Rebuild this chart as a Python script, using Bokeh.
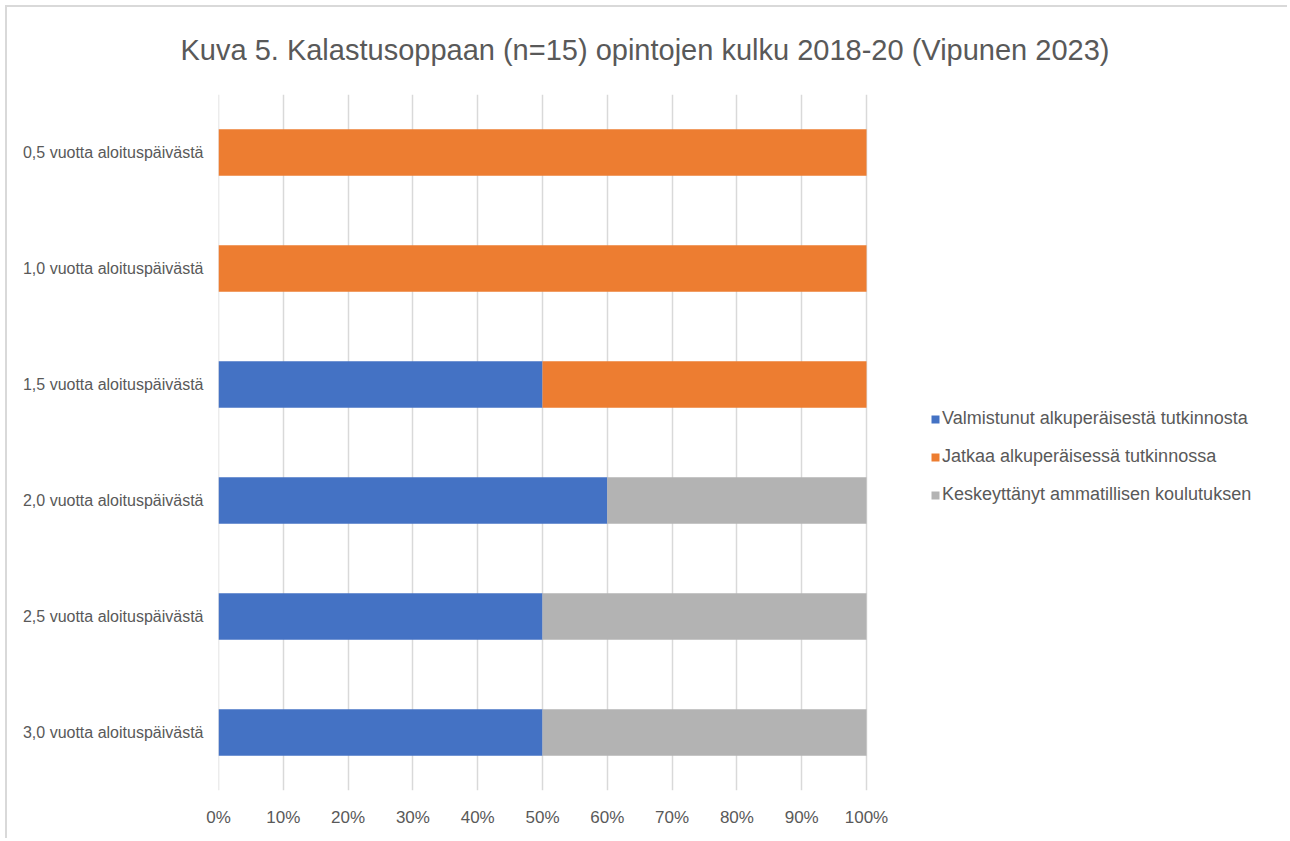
from bokeh.plotting import figure
from bokeh.models import (ColumnDataSource, FactorRange, Range1d, FixedTicker,
                          PrintfTickFormatter, Legend, LegendItem, Title, Span)
from bokeh.embed import file_html
from bokeh.resources import INLINE

categories = ["0,5 vuotta aloituspäivästä", "1,0 vuotta aloituspäivästä",
              "1,5 vuotta aloituspäivästä", "2,0 vuotta aloituspäivästä",
              "2,5 vuotta aloituspäivästä", "3,0 vuotta aloituspäivästä"]
valmistunut = [0, 0, 50, 60, 50, 50]
jatkaa = [100, 100, 50, 0, 0, 0]
keskeyttanyt = [0, 0, 0, 40, 50, 50]
series_names = ["Valmistunut alkuperäisestä tutkinnosta",
                "Jatkaa alkuperäisessä tutkinnossa",
                "Keskeyttänyt ammatillisen koulutuksen"]
colors = ["#4472C4", "#ED7D31", "#B3B3B3"]
x_ticks = [0, 10, 20, 30, 40, 50, 60, 70, 80, 90, 100]
title_text = "Kuva 5. Kalastusoppaan (n=15) opintojen kulku 2018-20 (Vipunen 2023)"

FONT = "Liberation Sans"
TXT = "#595959"
GRID = "#d9d9d9"

W, H = 1282, 833
BL, BR, BT, BB = 211, 5, 86, 50
AXIS_PX = 648  # pixel width of the 0..100 % scale
frame_w = W - BL - BR
x_end = x_ticks[-1] * frame_w / AXIS_PX  # extra room on the right for the legend

src = ColumnDataSource(dict(cat=categories, v=valmistunut, j=jatkaa, k=keskeyttanyt))

p = figure(width=W, height=H, output_backend="svg", toolbar_location=None,
           y_range=FactorRange(factors=list(reversed(categories))),
           x_range=Range1d(0, x_end),
           min_border_left=BL, min_border_right=BR,
           min_border_top=BT, min_border_bottom=BB)
p.outline_line_color = None
p.styles = {"border-top": "2px solid #d9d9d9", "border-left": "2px solid #d9d9d9",
            "margin-left": "5px", "margin-top": "5px"}

p.title = Title(text=title_text, align="left", offset=-38, text_font=FONT,
                text_font_size="29px", text_color=TXT, text_font_style="normal",
                vertical_align="top", standoff=53)

p.add_layout(Span(location=x_ticks[0], dimension="height", line_color=GRID,
                  line_width=1.5, level="underlay"))

renderers = p.hbar_stack(["v", "j", "k"], y="cat", height=0.4, color=colors,
                         source=src, line_color=None)

p.xaxis.ticker = FixedTicker(ticks=x_ticks)
p.xaxis.formatter = PrintfTickFormatter(format="%d%%")
for ax in (p.xaxis[0], p.yaxis[0]):
    ax.axis_line_color = None
    ax.major_tick_line_color = None
    ax.minor_tick_line_color = None
    ax.major_label_text_font = FONT
    ax.major_label_text_color = TXT
p.xaxis.major_label_text_font_size = "17px"
p.xaxis.major_label_standoff = 11
p.yaxis.major_label_text_font_size = "16px"
p.yaxis.major_label_standoff = 9

p.ygrid.grid_line_color = None
p.xgrid.grid_line_color = GRID
p.xgrid.grid_line_width = 1.5

legend = Legend(items=[LegendItem(label=n, renderers=[r]) for n, r in zip(series_names, renderers)],
                location=(712, 285), orientation="vertical")
legend.glyph_width = 10
legend.glyph_height = 10
legend.label_standoff = 2
legend.label_height = 20
legend.spacing = 17
legend.padding = 0
legend.margin = 0
legend.border_line_color = None
legend.background_fill_alpha = 0
legend.label_text_font = FONT
legend.label_text_font_size = "18px"
legend.label_text_color = TXT
p.add_layout(legend, "center")

open("out.html", "w").write(file_html(p, INLINE))
